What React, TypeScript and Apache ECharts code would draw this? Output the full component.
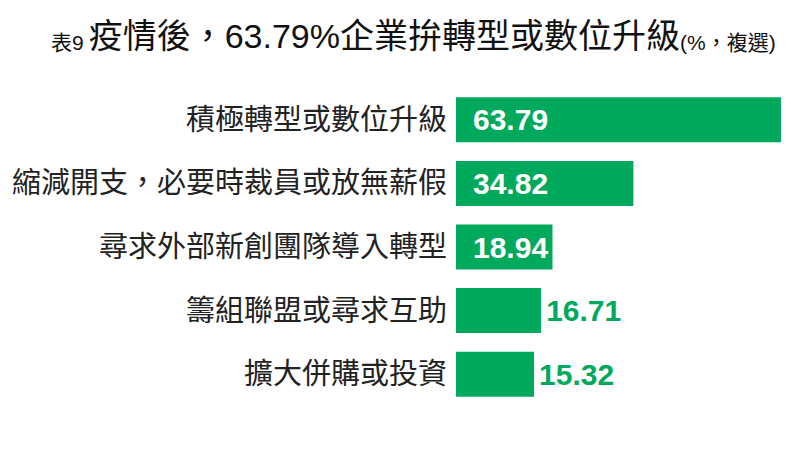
import * as echarts from 'echarts'
import { useEffect, useRef } from 'react'

const categories = [
  '積極轉型或數位升級',
  '縮減開支，必要時裁員或放無薪假',
  '尋求外部新創團隊導入轉型',
  '籌組聯盟或尋求互助',
  '擴大併購或投資',
]
const values = [63.79, 34.82, 18.94, 16.71, 15.32]
// bars that are wide enough carry their value inside
const labelInside = [true, true, true, false, false]

const GREEN = '#00a95c'
const FONT = "'Liberation Sans', 'Noto Sans CJK TC', sans-serif"

export default function App() {
  const chartRef = useRef<HTMLDivElement>(null)

  useEffect(() => {
    if (!chartRef.current) return
    const chart = echarts.init(chartRef.current, null, { renderer: 'svg' })

    const data = values.map((v, i) => ({
      value: v,
      label: labelInside[i]
        ? { position: 'insideLeft', distance: 17, color: '#fff' }
        : { position: 'right', distance: 5, color: GREEN },
    }))

    chart.setOption({
      animation: false,
      backgroundColor: '#fff',
      title: {
        left: 46,
        top: 14,
        text: '{s|表9} {b|疫情後，63.79%企業拚轉型或數位升級}{s|(%，複選)}',
        textStyle: {
          fontWeight: 'normal',
          rich: {
            s: { fontSize: 21, fontFamily: FONT, fontWeight: 'normal', color: '#111', verticalAlign: 'bottom' },
            b: { fontSize: 34, fontFamily: FONT, fontWeight: 'normal', color: '#111', verticalAlign: 'bottom' },
          },
        },
      },
      grid: { left: 456, right: 11, top: 88, bottom: 49, containLabel: false },
      xAxis: {
        type: 'value',
        min: 0,
        max: 63.79,
        show: false,
      },
      yAxis: {
        type: 'category',
        inverse: true,
        data: categories,
        axisLine: { show: false },
        axisTick: { show: false },
        splitLine: { show: false },
        axisLabel: {
          fontSize: 29,
          fontFamily: FONT,
          color: '#222',
          margin: 9,
        },
      },
      series: [
        {
          type: 'bar',
          data,
          barWidth: 45,
          itemStyle: { color: GREEN },
          label: {
            show: true,
            fontSize: 30,
            fontWeight: 'bold',
            fontFamily: FONT,
          },
        },
      ],
    })

    return () => chart.dispose()
  }, [])

  return (
    <div
      ref={chartRef}
      style={{ position: 'absolute', left: 0, top: 0, width: 792, height: 455 }}
    />
  )
}
